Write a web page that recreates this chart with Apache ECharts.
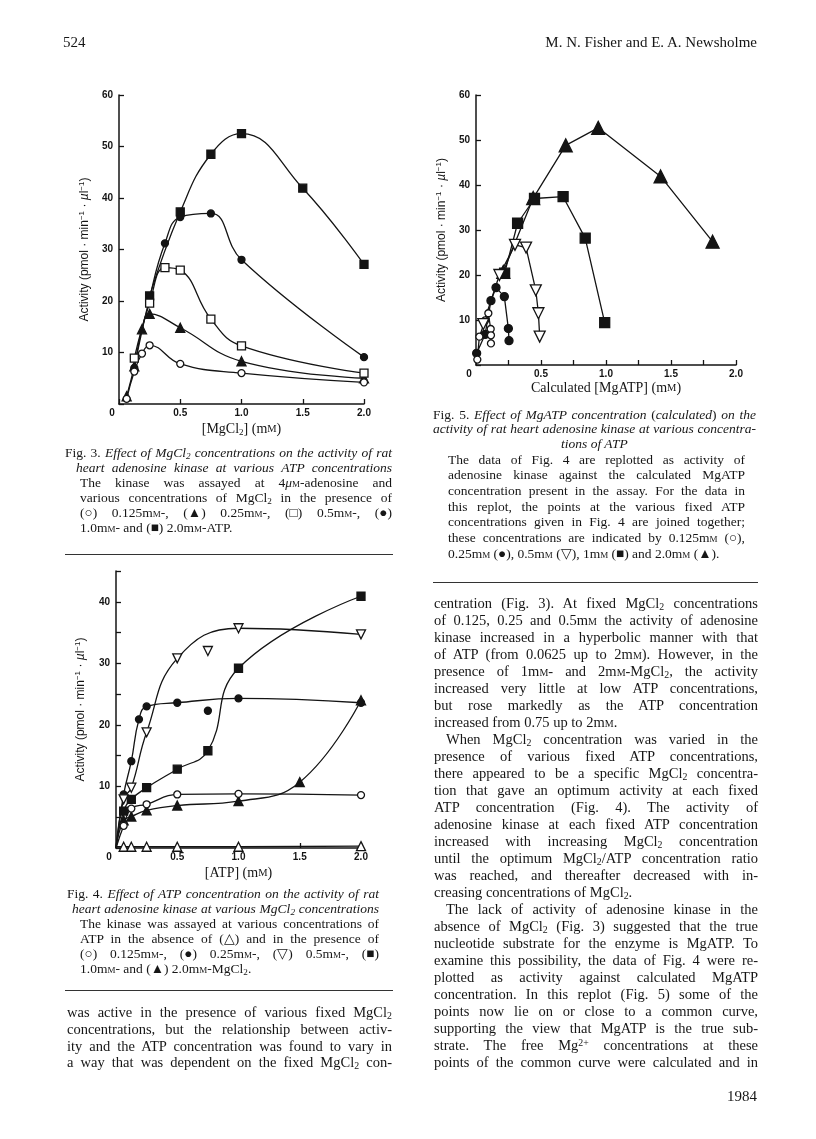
<!DOCTYPE html>
<html>
<head>
<meta charset="utf-8">
<script src="https://cdn.jsdelivr.net/npm/echarts@6/dist/echarts.min.js"></script>
<style>
  html, body { margin: 0; padding: 0; background: #fff; }
  body { width: 816px; height: 1139px; position: relative; overflow: hidden; }
  #chart { position: absolute; left: 0; top: 0; width: 816px; height: 1139px; }
  .ln { position: absolute; font-family: 'Liberation Serif', 'Times New Roman', serif; color: #161616; line-height: 1; white-space: nowrap; z-index: 2; }
  .ln span { display: inline-block; white-space: nowrap; }
  .ln sub { font-size: 0.68em; vertical-align: -0.25em; line-height: 0; }
  .ln sup { font-size: 0.68em; vertical-align: 0.45em; line-height: 0; }
  .sc { font-variant: small-caps; }
  .rule { position: absolute; height: 0; border-top: 1.5px solid #333; z-index: 2; }
</style>
</head>
<body>
<div id="chart"></div>
<script>
// Fig. 3: activity vs [MgCl2] (mM), one curve per fixed ATP
const f3Atp0125 = [[0.0625, 1.0], [0.125, 6.3], [0.1875, 9.8], [0.25, 11.4], [0.5, 7.8], [1.0, 6.0], [2.0, 4.2]]
const f3Atp025 = [[0.0625, 1.5], [0.125, 7.3], [0.1875, 14.5], [0.25, 17.5], [0.5, 14.8], [1.0, 8.3], [2.0, 5.0]]
const f3Atp05 = [[0.125, 8.9], [0.25, 19.6], [0.375, 26.5], [0.5, 26.0], [0.75, 16.5], [1.0, 11.3], [2.0, 6.0]]
const f3Atp1 = [[0.125, 7.0], [0.25, 20.6], [0.375, 31.2], [0.5, 36.3], [0.75, 37.0], [1.0, 28.0], [2.0, 9.1]]
const f3Atp2 = [[0.25, 21.0], [0.5, 37.3], [0.75, 48.5], [1.0, 52.5], [1.5, 41.9], [2.0, 27.1]]

// Fig. 4: activity vs [ATP] (mM), one curve per fixed MgCl2 (x = 0 is the curve origin, no marker)
const f4Mg0 = [[0, 0.2], [0.0625, 0.2], [0.125, 0.2], [0.25, 0.2], [0.5, 0.2], [1.0, 0.2], [2.0, 0.3]]
const f4Mg0125 = [[0, 0], [0.0625, 3.6], [0.125, 6.4], [0.25, 7.1], [0.5, 8.7], [1.0, 8.8], [2.0, 8.6]]
const f4Mg025 = [[0, 0], [0.0625, 8.7], [0.125, 14.1], [0.1875, 20.9], [0.25, 23.0], [0.5, 23.6], [1.0, 24.3], [2.0, 23.6]]
const f4Mg025Off = [[0.75, 22.3]]   // point lying off the drawn curve
const f4Mg05 = [[0, 0], [0.0625, 7.9], [0.125, 9.8], [0.25, 18.8], [0.5, 30.8], [1.0, 35.7], [2.0, 34.7]]
const f4Mg05Off = [[0.75, 32.0]]
const f4Mg1 = [[0, 0], [0.0625, 6.0], [0.125, 7.9], [0.25, 9.8], [0.5, 12.8], [0.75, 15.8], [1.0, 29.2], [2.0, 40.9]]
const f4Mg2 = [[0, 0], [0.0625, 4.5], [0.125, 5.1], [0.25, 6.1], [0.5, 6.9], [1.0, 7.6], [1.5, 10.7], [2.0, 24.0]]

// Fig. 5: activity vs calculated [MgATP] (mM), points joined per fixed ATP
const f5Atp0125 = [[0.01, 1.2], [0.026, 6.3], [0.07, 9.9], [0.095, 11.5], [0.113, 8.0], [0.115, 6.6], [0.115, 4.8]]
const f5Atp025 = [[0.005, 2.6], [0.07, 6.8], [0.115, 14.3], [0.154, 17.2], [0.218, 15.2], [0.249, 8.1], [0.254, 5.4]]
const f5Atp05 = [[0.056, 9.1], [0.18, 20.0], [0.30, 26.7], [0.385, 26.1], [0.46, 16.6], [0.48, 11.5], [0.49, 6.3]]
const f5Atp1 = [[0.22, 20.4], [0.32, 31.5], [0.45, 37.0], [0.67, 37.4], [0.84, 28.2], [0.99, 9.4]]
const f5Atp2 = [[0.21, 20.7], [0.44, 37.1], [0.69, 48.8], [0.94, 52.7], [1.42, 41.9], [1.82, 27.4]]

// tick labels
const xLabels = [0, 0.5, 1.0, 1.5, 2.0]
const y60Labels = [10, 20, 30, 40, 50, 60]
const y45Labels = [10, 20, 30, 40]

const INK = '#141414'

// marker looks
const marks = {
  openCircle: { symbol: 'circle', fill: '#fff' },
  filledCircle: { symbol: 'circle', fill: INK },
  openSquare: { symbol: 'rect', fill: '#fff' },
  filledSquare: { symbol: 'rect', fill: INK },
  filledTriangle: { symbol: 'triangle', fill: INK },
  openTriangle: { symbol: 'triangle', fill: '#fff' },
  openInvTriangle: { symbol: 'triangle', fill: '#fff', rotate: 180 }
}

function curve(idx, pts, markName, size, smooth) {
  const m = marks[markName]
  return {
    type: 'line',
    xAxisIndex: idx,
    yAxisIndex: idx,
    data: pts.map(p => p[0] === 0 ? { value: p, symbol: 'none' } : p),
    symbol: m.symbol,
    symbolSize: size,
    symbolRotate: m.rotate || 0,
    smooth: smooth,
    showAllSymbol: true,
    lineStyle: { color: INK, width: 1.3 },
    itemStyle: { color: m.fill, borderColor: INK, borderWidth: 1.3 },
    emphasis: { disabled: true },
    z: m.fill === '#fff' ? 3 : 2,
    animation: false
  }
}

function dots(idx, pts, markName, size) {
  const m = marks[markName]
  return {
    type: 'scatter',
    xAxisIndex: idx,
    yAxisIndex: idx,
    data: pts,
    symbol: m.symbol,
    symbolSize: size,
    symbolRotate: m.rotate || 0,
    itemStyle: { color: m.fill, borderColor: INK, borderWidth: 1.3, opacity: 1 },
    emphasis: { disabled: true },
    z: 4,
    animation: false
  }
}

const tickFont = { fontFamily: 'Liberation Sans, Arial, sans-serif', fontSize: 10, fontWeight: 'bold', color: INK }

function xAxisFor(idx, name, nameGap, interval) {
  return {
    type: 'value', gridIndex: idx, min: 0, max: 2, interval: interval,
    name: name, nameLocation: 'middle', nameGap: nameGap,
    nameTextStyle: {
      fontFamily: 'Liberation Serif, Times New Roman, serif', fontSize: 14, color: INK,
      rich: {
        sub: { fontFamily: 'Liberation Serif', fontSize: 9, verticalAlign: 'bottom', padding: [6, 0, 0, 0], color: INK },
        sc: { fontFamily: 'Liberation Serif', fontSize: 10.5, color: INK }
      }
    },
    axisLine: { show: true, lineStyle: { color: INK, width: 1.5 } },
    axisTick: { show: true, inside: true, length: 5, lineStyle: { color: INK, width: 1.3 } },
    splitLine: { show: false },
    axisLabel: Object.assign({}, tickFont, {
      margin: 4,
      formatter: v => {
        const hit = xLabels.find(l => Math.abs(l - v) < 1e-6)
        if (hit === undefined) return ''
        return hit === 0 ? '{z|0}' : hit.toFixed(1)
      },
      rich: { z: Object.assign({}, tickFont, { padding: [0, 14, 0, 0] }) }
    })
  }
}

function yAxisFor(idx, max, interval, labels, nameGap) {
  return {
    type: 'value', gridIndex: idx, min: 0, max: max, interval: interval,
    name: 'Activity (pmol · min{sup|−1} · {mu|µ}l{sup|−1})',
    nameLocation: 'middle', nameGap: nameGap,
    nameTextStyle: {
      fontFamily: 'Liberation Sans, Arial, sans-serif', fontSize: 12, color: INK,
      rich: {
        sup: { fontFamily: 'Liberation Sans', fontSize: 8, verticalAlign: 'top', padding: [0, 0, 6, 0], color: INK },
        mu: { fontFamily: 'Liberation Sans', fontSize: 12, fontStyle: 'italic', color: INK }
      }
    },
    axisLine: { show: true, lineStyle: { color: INK, width: 1.5 } },
    axisTick: { show: true, inside: true, length: 5, lineStyle: { color: INK, width: 1.3 } },
    splitLine: { show: false },
    axisLabel: Object.assign({}, tickFont, {
      margin: 6,
      formatter: v => labels.includes(v) ? String(v) : ''
    })
  }
}

const chart = echarts.init(document.getElementById('chart'), null, { renderer: 'canvas' })

chart.setOption({
  backgroundColor: '#fff',
  animation: false,
  grid: [
    { left: 119, top: 95, width: 245, height: 309 },
    { left: 116, top: 571, width: 245, height: 277 },
    { left: 476, top: 95, width: 260, height: 270 }
  ],
  xAxis: [
    xAxisFor(0, '[MgCl{sub|2}] (m{sc|M})', 18, 0.5),
    xAxisFor(1, '[ATP] (m{sc|M})', 18, 0.5),
    xAxisFor(2, 'Calculated [MgATP] (m{sc|M})', 16, 0.25)
  ],
  yAxis: [
    yAxisFor(0, 60, 10, y60Labels, 27),
    yAxisFor(1, 45, 5, y45Labels, 28),
    yAxisFor(2, 60, 10, y60Labels, 27)
  ],
  series: [
    curve(0, f3Atp0125, 'openCircle', 7, 0.45),
    curve(0, f3Atp025, 'filledTriangle', 9, 0.45),
    curve(0, f3Atp05, 'openSquare', 8, 0.45),
    curve(0, f3Atp1, 'filledCircle', 7, 0.45),
    curve(0, f3Atp2, 'filledSquare', 8, 0.45),

    curve(1, f4Mg0, 'openTriangle', 9, false),
    curve(1, f4Mg0125, 'openCircle', 7, 0.45),
    curve(1, f4Mg025, 'filledCircle', 7, 0.45),
    dots(1, f4Mg025Off, 'filledCircle', 7),
    curve(1, f4Mg05, 'openInvTriangle', 9, 0.45),
    dots(1, f4Mg05Off, 'openInvTriangle', 9),
    curve(1, f4Mg1, 'filledSquare', 8, 0.45),
    curve(1, f4Mg2, 'filledTriangle', 9, 0.45),

    curve(2, f5Atp0125, 'openCircle', 7, false),
    curve(2, f5Atp025, 'filledCircle', 8, false),
    curve(2, f5Atp05, 'openInvTriangle', 11, false),
    curve(2, f5Atp1, 'filledSquare', 10, false),
    curve(2, f5Atp2, 'filledTriangle', 13, false)
  ]
})

// ---- page text ----
// each line: [html, align, indent], align j = justified, l = left, c = centred, r = right
function putLines(lines, x, w, y0, lh, fs) {
  lines.forEach((ln, i) => {
    const [html, align, indent] = ln
    const ind = indent || 0
    const d = document.createElement('div')
    d.className = 'ln'
    d.style.fontSize = fs + 'px'
    d.style.top = (y0 + i * lh - fs * 0.54) + 'px'
    const s = document.createElement('span')
    s.innerHTML = html
    d.appendChild(s)
    document.body.appendChild(d)
    const width = w - ind
    const nat = s.getBoundingClientRect().width
    let left = x + ind
    if (align === 'j') {
      const gaps = (s.textContent.match(/ /g) || []).length
      if (gaps > 0) s.style.wordSpacing = ((width - nat) / gaps) + 'px'
    } else if (align === 'c') {
      left = x + ind + (width - nat) / 2
    } else if (align === 'r') {
      left = x + w - nat
    }
    d.style.left = left + 'px'
  })
}

function rule(x, y, w) {
  const r = document.createElement('div')
  r.className = 'rule'
  r.style.left = x + 'px'
  r.style.top = y + 'px'
  r.style.width = w + 'px'
  document.body.appendChild(r)
}

const mM = 'm<span class="sc">m</span>'
const Cl2 = 'MgCl<sub>2</sub>'

putLines([['524', 'l']], 63, 60, 43, 0, 15)
putLines([['M. N. Fisher and E. A. Newsholme', 'r']], 450, 307, 43, 0, 15)

putLines([
  ['Fig. 3. <i>Effect of ' + Cl2 + ' concentrations on the activity of rat</i>', 'j'],
  ['<i>heart adenosine kinase at various ATP concentrations</i>', 'j', 11],
  ['The kinase was assayed at 4<i>μ</i><span class="sc">m</span>-adenosine and', 'j', 15],
  ['various concentrations of ' + Cl2 + ' in the presence of', 'j', 15],
  ['(○) 0.125' + mM + '-, (▲) 0.25' + mM + '-, (□) 0.5' + mM + '-, (●)', 'j', 15],
  ['1.0' + mM + '- and (■) 2.0' + mM + '-ATP.', 'l', 15]
], 65, 327, 453, 15, 13.5)
rule(65, 554, 328)

putLines([
  ['Fig. 4. <i>Effect of ATP concentration on the activity of rat</i>', 'j'],
  ['<i>heart adenosine kinase at various ' + Cl2 + ' concentrations</i>', 'j', 5],
  ['The kinase was assayed at various concentrations of', 'j', 13],
  ['ATP in the absence of (△) and in the presence of', 'j', 13],
  ['(○) 0.125' + mM + '-, (●) 0.25' + mM + '-, (▽) 0.5' + mM + '-, (■)', 'j', 13],
  ['1.0' + mM + '- and (▲) 2.0' + mM + '-' + Cl2 + '.', 'l', 13]
], 67, 312, 894, 15, 13.5)
rule(65, 990, 328)

putLines([
  ['was active in the presence of various fixed ' + Cl2, 'j'],
  ['concentrations, but the relationship between activ-', 'j'],
  ['ity and the ATP concentration was found to vary in', 'j'],
  ['a way that was dependent on the fixed ' + Cl2 + ' con-', 'j']
], 67, 325, 1013, 16.7, 14.5)

putLines([
  ['Fig. 5. <i>Effect of MgATP concentration</i> (<i>calculated</i>) <i>on the</i>', 'j'],
  ['<i>activity of rat heart adenosine kinase at various concentra-</i>', 'j'],
  ['<i>tions of ATP</i>', 'c']
], 433, 323, 415, 14.6, 13.5)
putLines([
  ['The data of Fig. 4 are replotted as activity of', 'j'],
  ['adenosine kinase against the calculated MgATP', 'j'],
  ['concentration present in the assay. For the data in', 'j'],
  ['this replot, the points at the various fixed ATP', 'j'],
  ['concentrations given in Fig. 4 are joined together;', 'j'],
  ['these concentrations are indicated by 0.125' + mM + ' (○),', 'j'],
  ['0.25' + mM + ' (●), 0.5' + mM + ' (▽), 1' + mM + ' (■) and 2.0' + mM + ' (▲).', 'l']
], 448, 297, 460, 15.67, 13.5)
rule(433, 582, 325)

putLines([
  ['centration (Fig. 3). At fixed ' + Cl2 + ' concentrations', 'j'],
  ['of 0.125, 0.25 and 0.5' + mM + ' the activity of adenosine', 'j'],
  ['kinase increased in a hyperbolic manner with that', 'j'],
  ['of ATP (from 0.0625 up to 2' + mM + '). However, in the', 'j'],
  ['presence of 1' + mM + '- and 2' + mM + '-' + Cl2 + ', the activity', 'j'],
  ['increased very little at low ATP concentrations,', 'j'],
  ['but rose markedly as the ATP concentration', 'j'],
  ['increased from 0.75 up to 2' + mM + '.', 'l'],
  ['When ' + Cl2 + ' concentration was varied in the', 'j', 12],
  ['presence of various fixed ATP concentrations,', 'j'],
  ['there appeared to be a specific ' + Cl2 + ' concentra-', 'j'],
  ['tion that gave an optimum activity at each fixed', 'j'],
  ['ATP concentration (Fig. 4). The activity of', 'j'],
  ['adenosine kinase at each fixed ATP concentration', 'j'],
  ['increased with increasing ' + Cl2 + ' concentration', 'j'],
  ['until the optimum ' + Cl2 + '/ATP concentration ratio', 'j'],
  ['was reached, and thereafter decreased with in-', 'j'],
  ['creasing concentrations of ' + Cl2 + '.', 'l'],
  ['The lack of activity of adenosine kinase in the', 'j', 12],
  ['absence of ' + Cl2 + ' (Fig. 3) suggested that the true', 'j'],
  ['nucleotide substrate for the enzyme is MgATP. To', 'j'],
  ['examine this possibility, the data of Fig. 4 were re-', 'j'],
  ['plotted as activity against calculated MgATP', 'j'],
  ['concentration. In this replot (Fig. 5) some of the', 'j'],
  ['points now lie on or close to a common curve,', 'j'],
  ['supporting the view that MgATP is the true sub-', 'j'],
  ['strate. The free Mg<sup>2+</sup> concentrations at these', 'j'],
  ['points of the common curve were calculated and in', 'j']
], 434, 324, 604, 16.98, 14.5)

putLines([['1984', 'r']], 650, 107, 1097, 0, 15)
</script>
</body>
</html>
